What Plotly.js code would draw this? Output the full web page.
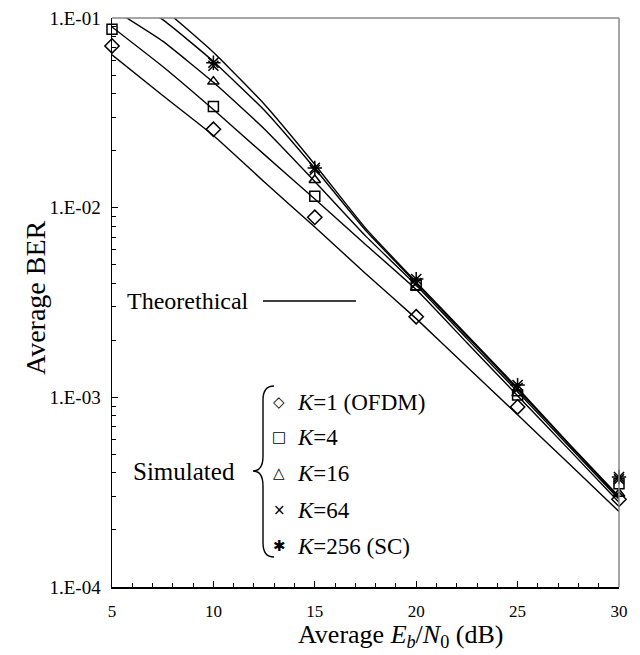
<!DOCTYPE html>
<html>
<head>
<meta charset="utf-8">
<script src="https://cdn.plot.ly/plotly-3.0.1.min.js"></script>
<style>html,body{margin:0;padding:0;background:#fff;}#chart{width:640px;height:655px;}</style>
</head>
<body>
<div id="chart"></div>
<script>
// ---- data ----
const theoryDB = [5, 7.5, 10, 12.5, 15, 17.5, 20, 22.5, 25, 27.5, 30];
const theoryK1   = [0.064, 0.039, 0.024, 0.0137, 0.0079, 0.0045, 0.0026, 0.00145, 0.00081, 0.00045, 0.00025];
const theoryK4   = [0.0897, 0.0555, 0.0329, 0.0191, 0.0111, 0.0064, 0.0037, 0.00194, 0.00102, 0.000535, 0.00028];
const theoryK16  = [0.112, 0.0755, 0.0458, 0.0261, 0.01375, 0.0071, 0.0039, 0.00204, 0.00107, 0.000557, 0.00029];
const theoryK64  = [0.14, 0.098, 0.059, 0.0327, 0.0161, 0.0076, 0.0040, 0.0021, 0.0011, 0.00057, 0.000295];
const theoryK256 = [0.16, 0.112, 0.066, 0.0352, 0.0169, 0.0078, 0.00405, 0.00213, 0.00112, 0.000575, 0.0003];

const simDB = [5, 10, 15, 20, 25, 30];
const simK1   = [0.0712, 0.0259, 0.0089, 0.00266, 0.00089, 0.00029];
const simK4   = [0.0872, 0.0341, 0.0115, 0.0039, 0.00103, 0.00035];
const simK16  = [null, 0.0462, 0.0140, 0.0038, 0.00105, 0.00031];
const simK64  = [null, 0.056, 0.0158, 0.0040, 0.00112, 0.00037];
const simK256 = [null, 0.0581, 0.0162, 0.0042, 0.00116, 0.00038];

const yTickVals = [1e-4, 1e-3, 1e-2, 1e-1];
const yTickText = ['1.E-04', '1.E-03', '1.E-02', '1.E-01'];
const xTickVals = [5, 10, 15, 20, 25, 30];

const legendLabels = ['<i>K</i>=1 (OFDM)', '<i>K</i>=4', '<i>K</i>=16', '<i>K</i>=64', '<i>K</i>=256 (SC)'];
const legendSymbols = ['\u25C7', '\u25A1', '\u25B3', '\u00D7', '\u2731'];

// ---- layout geometry ----
const W = 640, H = 655;
const M = {l: 112, r: 21, t: 18, b: 68};
const PW = W - M.l - M.r, PH = H - M.t - M.b;
const px = X => (X - M.l) / PW;
const py = Y => (H - M.b - Y) / PH;

const FONT = 'Liberation Serif, Times New Roman, serif';
const theorySets = [theoryK1, theoryK4, theoryK16, theoryK64, theoryK256];
const simSets = [simK1, simK4, simK16, simK64, simK256];
const simMarkers = ['diamond-open', 'square-open', 'triangle-up-open', 'x-thin-open', 'asterisk-open'];
const simSizes = [11, 10, 10, 10, 12];

const traces = [];
theorySets.forEach(ys => traces.push({
  x: theoryDB, y: ys, type: 'scatter', mode: 'lines',
  line: {color: '#000', width: 1.4, shape: 'spline', smoothing: 0.4},
  showlegend: false, hoverinfo: 'skip'
}));
simSets.forEach((ys, i) => traces.push({
  x: simDB, y: ys, type: 'scatter', mode: 'markers',
  marker: {symbol: simMarkers[i], size: simSizes[i], color: '#000', line: {color: '#000', width: 1.5}},
  cliponaxis: false, showlegend: false
}));

const annotations = [];
annotations.push({xref: 'paper', yref: 'paper', x: px(251), y: py(301), xanchor: 'right', yanchor: 'middle',
  text: 'Theorethical', showarrow: false, font: {family: FONT, size: 24, color: '#000'}});
annotations.push({xref: 'paper', yref: 'paper', x: px(237), y: py(471), xanchor: 'right', yanchor: 'middle',
  text: 'Simulated', showarrow: false, font: {family: FONT, size: 25, color: '#000'}});
const rowY = [402, 437, 473, 510, 546];
legendLabels.forEach((t, i) => {
  annotations.push({xref: 'paper', yref: 'paper', x: px(279), y: py(rowY[i]), xanchor: 'center', yanchor: 'middle',
    text: legendSymbols[i], showarrow: false, font: {family: 'DejaVu Sans', size: 15, color: '#000'}});
  annotations.push({xref: 'paper', yref: 'paper', x: px(295), y: py(rowY[i]), xanchor: 'left', yanchor: 'middle',
    text: t, showarrow: false, font: {family: FONT, size: 23, color: '#000'}});
});
annotations.push({xref: 'paper', yref: 'paper', x: px(400), y: py(636), xanchor: 'center', yanchor: 'middle',
  text: 'Average <i>E</i><sub><i>b</i></sub>/<i>N</i><sub>0</sub> (dB)', showarrow: false,
  font: {family: FONT, size: 26, color: '#000'}});
annotations.push({xref: 'paper', yref: 'paper', x: px(35), y: py(298), xanchor: 'center', yanchor: 'middle',
  text: 'Average BER', textangle: -90, showarrow: false, font: {family: FONT, size: 28, color: '#000'}});

const braceD = 'M ' + px(274) + ',' + py(386) +
  ' Q ' + px(263) + ',' + py(386) + ' ' + px(263) + ',' + py(400) +
  ' L ' + px(263) + ',' + py(456) +
  ' Q ' + px(263) + ',' + py(471) + ' ' + px(253) + ',' + py(471) +
  ' Q ' + px(263) + ',' + py(471) + ' ' + px(263) + ',' + py(486) +
  ' L ' + px(263) + ',' + py(543) +
  ' Q ' + px(263) + ',' + py(557) + ' ' + px(274) + ',' + py(557);

const shapes = [
  {type: 'line', xref: 'paper', yref: 'paper', x0: px(263), x1: px(356), y0: py(301), y1: py(301),
   line: {color: '#000', width: 1.4}},
  {type: 'path', xref: 'paper', yref: 'paper', path: braceD, line: {color: '#000', width: 1.4}},
  {type: 'line', xref: 'paper', yref: 'paper', x0: 0, x1: 1, y0: 1, y1: 1, line: {color: '#888', width: 1.5}},
  {type: 'line', xref: 'paper', yref: 'paper', x0: 1, x1: 1, y0: 0, y1: 1, line: {color: '#888', width: 1.5}}
];

const layout = {
  width: W, height: H, margin: M,
  paper_bgcolor: '#fff', plot_bgcolor: '#fff',
  showlegend: false,
  xaxis: {
    range: [5, 30], tickmode: 'array', tickvals: xTickVals, ticks: 'inside', ticklen: 6, tickwidth: 1,
    tickcolor: '#000', showgrid: false, zeroline: false, showline: true, linecolor: '#000', linewidth: 1.5,
    tickfont: {family: FONT, size: 17, color: '#000'}, ticklabelstandoff: 8,
    minor: {dtick: 1, ticks: 'inside', ticklen: 4, tickcolor: '#000', showgrid: false}
  },
  yaxis: {
    type: 'log', range: [-4, -1], tickmode: 'array', tickvals: yTickVals, ticktext: yTickText,
    ticks: 'inside', ticklen: 6, tickwidth: 1, tickcolor: '#000', showgrid: false, zeroline: false,
    showline: true, linecolor: '#000', linewidth: 1.5,
    tickfont: {family: FONT, size: 19, color: '#000'}, ticklabelstandoff: 6,
    minor: {dtick: 'D1', ticks: 'inside', ticklen: 4, tickcolor: '#000', showgrid: false}
  },
  annotations: annotations,
  shapes: shapes
};

Plotly.newPlot('chart', traces, layout, {displayModeBar: false, staticPlot: true});
</script>
</body>
</html>
